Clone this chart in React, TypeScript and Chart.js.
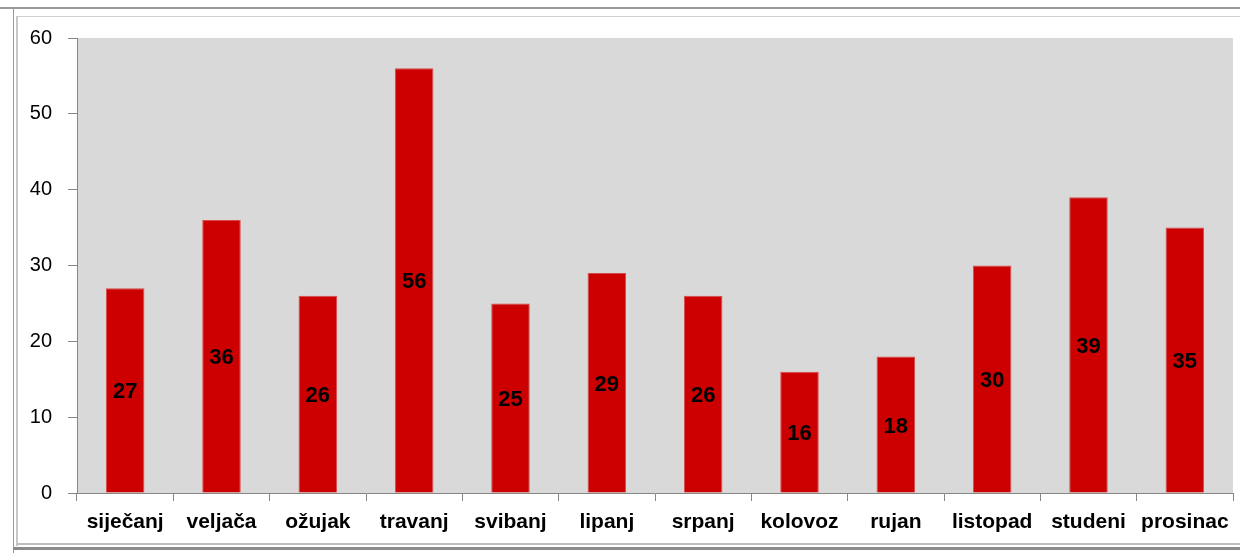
import React, { useEffect, useRef } from "react";
import { Chart, registerables } from "chart.js";

Chart.register(...registerables);

const months = [
  "siječanj", "veljača", "ožujak", "travanj", "svibanj", "lipanj",
  "srpanj", "kolovoz", "rujan", "listopad", "studeni", "prosinac",
];
const counts = [27, 36, 26, 56, 25, 29, 26, 16, 18, 30, 39, 35];
const yTicks = [0, 10, 20, 30, 40, 50, 60];

const FONT = "'Liberation Sans', Arial, sans-serif";

const plotBg = {
  id: "plotBg",
  beforeDraw(chart: any) {
    const { ctx, chartArea } = chart;
    ctx.save();
    ctx.fillStyle = "#d9d9d9";
    ctx.fillRect(chartArea.left, chartArea.top, chartArea.right - chartArea.left, chartArea.bottom - chartArea.top);
    ctx.restore();
  },
};

const centerLabels = {
  id: "centerLabels",
  afterDatasetsDraw(chart: any) {
    const { ctx } = chart;
    const meta = chart.getDatasetMeta(0);
    const data = chart.data.datasets[0].data as number[];
    ctx.save();
    ctx.fillStyle = "#000";
    ctx.font = `bold 22px ${FONT}`;
    ctx.textAlign = "center";
    ctx.textBaseline = "middle";
    meta.data.forEach((bar: any, i: number) => {
      const y = (bar.y + bar.base) / 2 + 2;
      ctx.fillText(String(data[i]), bar.x, y);
    });
    ctx.restore();
  },
};

export default function App() {
  const ref = useRef<HTMLCanvasElement>(null);
  useEffect(() => {
    const chart = new Chart(ref.current!, {
      type: "bar",
      data: {
        labels: months,
        datasets: [
          {
            data: counts,
            backgroundColor: "#cc0000",
            borderColor: "#d84a4a",
            borderWidth: 1,
            barPercentage: 0.4,
            categoryPercentage: 1,
          },
        ],
      },
      options: {
        animation: false,
        responsive: false,
        maintainAspectRatio: false,
        layout: { padding: { left: 20, right: 7, top: 38, bottom: 0 } },
        plugins: { legend: { display: false }, tooltip: { enabled: false }, title: { display: false } },
        scales: {
          x: {
            grid: { display: true, offset: true, drawOnChartArea: false, drawTicks: true, tickLength: 8, color: "#868686" },
            border: { display: true, color: "#868686", width: 1 },
            ticks: { color: "#000", font: { family: FONT, size: 21, weight: "bold" }, padding: 9, maxRotation: 0, autoSkip: false },
            afterFit(scale: any) { scale.height = 60; },
          },
          y: {
            min: 0,
            max: 60,
            afterBuildTicks(scale: any) { scale.ticks = yTicks.map((v) => ({ value: v })); },
            grid: { display: true, drawOnChartArea: false, drawTicks: true, tickLength: 9, color: "#868686" },
            border: { display: true, color: "#868686", width: 1 },
            ticks: { color: "#000", font: { family: FONT, size: 20 }, padding: 16 },
            afterFit(scale: any) { scale.width = 57; },
          },
        },
      },
      plugins: [plotBg, centerLabels],
    });
    return () => chart.destroy();
  }, []);

  return (
    <div style={{ position: "absolute", left: 0, top: 0, width: 1240, height: 553, background: "#fff", overflow: "hidden" }}>
      <div style={{ position: "absolute", left: 0, top: 7, width: 1240, height: 2, background: "#9a9a9a" }} />
      <div style={{ position: "absolute", left: 17, top: 16, width: 1223, height: 1, background: "#d0d0d0" }} />
      <div style={{ position: "absolute", left: 13, top: 8, width: 1, height: 545, background: "#9a9a9a" }} />
      <div style={{ position: "absolute", left: 16, top: 16, width: 2, height: 530, background: "#c8c8c8" }} />
      <div style={{ position: "absolute", left: 17, top: 543, width: 1223, height: 2, background: "#bdbdbd" }} />
      <div style={{ position: "absolute", left: 13, top: 547, width: 1227, height: 3, background: "#8a8a8a" }} />
      <canvas ref={ref} width={1240} height={553} style={{ position: "absolute", left: 0, top: 0, width: 1240, height: 553 }} />
    </div>
  );
}
